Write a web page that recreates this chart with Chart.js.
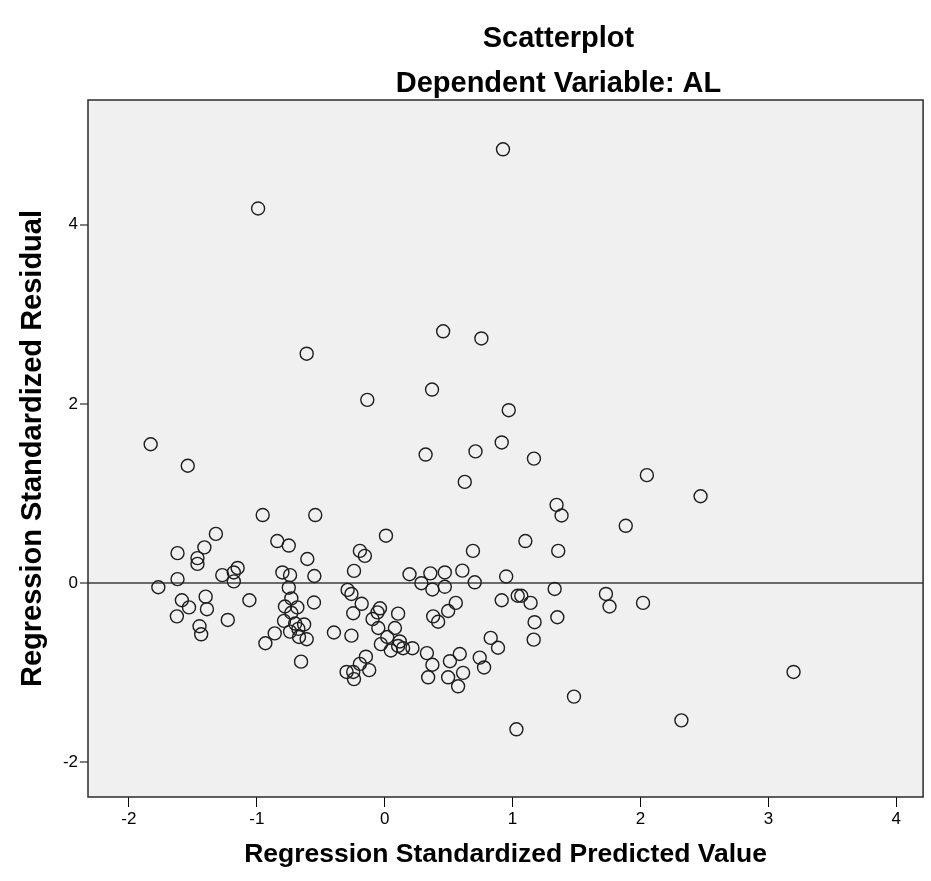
<!DOCTYPE html>
<html>
<head>
<meta charset="utf-8">
<script src="https://cdn.jsdelivr.net/npm/chart.js@4.4.1/dist/chart.umd.min.js"></script>
<style>
  body { margin: 0; background: #fff; }
</style>
</head>
<body>
<canvas id="scatter-chart" width="931" height="881"></canvas>
<script>
// 예측값 (x) / 잔차 (y)
const predicted = [
  -0.99, 0.925, 0.457, 0.756, -0.61, -0.136, 0.37, 0.97, -1.83, -1.54,
  0.32, 0.71, 0.915, 0.626, 1.167, 2.05, 2.47, 1.344, 1.383, 1.885,
  1.10, 1.357, -0.954, -0.543, -1.32, -0.84, -0.75, -1.41, -1.62, -0.605,
  -1.464, -1.464, -1.15, -1.18, -1.27, -1.18, -0.80, -0.74, -0.55, -1.62,
  -1.77, -0.75, -1.586, -1.53, -1.625, -1.40, -1.39, -1.448, -1.435, -1.058,
  -1.227, -0.73, -0.78, -0.683, -0.73, -0.787, -0.63, -0.70, -0.74, -0.675,
  -0.67, -0.61, -0.86, -0.933, -0.654, -0.553, -0.397, 0.01, 0.69, -0.194,
  -0.155, -0.24, 0.194, 0.357, 0.47, 0.607, 0.95, 0.287, 0.704, 0.373,
  0.47, -0.29, -0.26, -0.18, -0.246, -0.037, -0.056, 0.105, -0.095, -0.05,
  0.08, 0.02, -0.03, 0.048, 0.105, 0.144, 0.217, 0.118, -0.26, 0.379,
  0.418, 0.496, 0.556, 0.915, 1.04, 0.33, 0.373, 0.34, 0.51, 0.587,
  0.613, 0.496, 0.574, 0.743, 0.777, 0.829, 0.886, -0.147, -0.194, -0.246,
  -0.121, -0.298, -0.24, 1.03, 1.329, 1.73, 1.758, 2.02, 1.068, 1.141,
  1.172, 1.35, 1.165, 1.48, 2.32, 3.197
];
const residual = [
  4.18, 4.84, 2.81, 2.73, 2.56, 2.045, 2.16, 1.93, 1.55, 1.31,
  1.435, 1.47, 1.57, 1.13, 1.39, 1.205, 0.97, 0.874, 0.755, 0.64,
  0.47, 0.36, 0.76, 0.76, 0.55, 0.47, 0.42, 0.40, 0.335, 0.27,
  0.28, 0.215, 0.17, 0.12, 0.09, 0.02, 0.12, 0.09, 0.08, 0.045,
  -0.045, -0.05, -0.19, -0.27, -0.37, -0.15, -0.29, -0.48, -0.57, -0.19,
  -0.41, -0.17, -0.26, -0.27, -0.33, -0.42, -0.46, -0.45, -0.54, -0.51,
  -0.60, -0.625, -0.56, -0.67, -0.875, -0.215, -0.55, 0.53, 0.36, 0.36,
  0.305, 0.137, 0.10, 0.11, 0.12, 0.14, 0.075, 0.0, 0.01, -0.07,
  -0.04, -0.075, -0.12, -0.23, -0.335, -0.28, -0.325, -0.34, -0.40, -0.50,
  -0.50, -0.60, -0.68, -0.75, -0.70, -0.725, -0.725, -0.65, -0.585, -0.37,
  -0.43, -0.31, -0.22, -0.19, -0.14, -0.78, -0.91, -1.05, -0.87, -0.79,
  -1.0, -1.05, -1.15, -0.83, -0.94, -0.61, -0.72, -0.82, -0.90, -0.99,
  -0.97, -0.99, -1.07, -1.63, -0.064, -0.12, -0.26, -0.22, -0.14, -0.22,
  -0.435, -0.38, -0.63, -1.265, -1.53, -0.99
];

// 축 범위 / 눈금
const xRange = [-2.32, 4.21];
const yRange = [-2.385, 5.39];
const xTickStep = 1;
const yTickStep = 2;
const refLineValue = 0;

const points = predicted.map((x, i) => ({ x: x, y: residual[i] }));

// 플롯 영역 배경 + 테두리
const plotFrame = {
  id: 'plotFrame',
  beforeDraw(chart) {
    const { ctx, chartArea: a } = chart;
    ctx.save();
    ctx.fillStyle = '#f0f0f0';
    ctx.fillRect(a.left, a.top, a.right - a.left, a.bottom - a.top);
    ctx.restore();
  },
  afterDraw(chart) {
    const { ctx, chartArea: a } = chart;
    ctx.save();
    ctx.strokeStyle = '#2b2b2b';
    ctx.lineWidth = 1.5;
    ctx.strokeRect(a.left, a.top, a.right - a.left, a.bottom - a.top);
    ctx.restore();
  }
};

// 제목이 가운데보다 오른쪽에 있어서 살짝 밀어줌
const titleShift = {
  id: 'titleShift',
  afterLayout(chart) {
    chart.boxes
      .filter(b => b.position === 'top' && !b.axis)
      .forEach(b => { b.left += 95; b.right += 95; });
  }
};

const fontFamily = '"Liberation Sans", Arial, sans-serif';
const tickFont = { family: '"Liberation Sans Narrow", "Liberation Sans", Arial, sans-serif', size: 17 };

const ctx = document.getElementById('scatter-chart').getContext('2d');
new Chart(ctx, {
  type: 'scatter',
  data: {
    datasets: [{
      label: 'Residual',
      data: points,
      backgroundColor: 'rgba(0,0,0,0)',
      borderColor: '#1e1e1e',
      borderWidth: 1.4,
      pointRadius: 6.5,
      pointHoverRadius: 6.5
    }]
  },
  options: {
    responsive: false,
    devicePixelRatio: 1,
    animation: false,
    layout: { padding: { left: 0, right: 4, top: 0, bottom: 0 } },
    plugins: {
      legend: { display: false },
      tooltip: { enabled: false },
      title: {
        display: true,
        text: 'Scatterplot',
        color: '#000',
        font: { family: fontFamily, size: 29, weight: 'bold', lineHeight: 1.1 },
        padding: { top: 23, bottom: 8 }
      },
      subtitle: {
        display: true,
        text: 'Dependent Variable: AL',
        color: '#000',
        font: { family: fontFamily, size: 29, weight: 'bold', lineHeight: 1.1 },
        padding: { top: 5.15, bottom: 0.05 }
      }
    },
    scales: {
      x: {
        type: 'linear',
        min: xRange[0],
        max: xRange[1],
        afterFit: (scale) => { scale.height = 84; },
        border: { display: false },
        grid: {
          drawOnChartArea: false,
          drawTicks: true,
          tickLength: 10,
          tickColor: '#000',
          tickWidth: 1
        },
        ticks: {
          stepSize: xTickStep,
          includeBounds: false,
          color: '#000',
          font: tickFont,
          padding: 2
        },
        title: {
          display: true,
          text: 'Regression Standardized Predicted Value',
          color: '#000',
          font: { family: fontFamily, size: 26.5, weight: 'bold' },
          padding: { top: 4, bottom: 10 }
        }
      },
      y: {
        type: 'linear',
        min: yRange[0],
        max: yRange[1],
        afterFit: (scale) => { scale.width = 88; },
        border: { display: false },
        grid: {
          drawOnChartArea: true,
          color: (c) => (c.tick && c.tick.value === refLineValue ? '#6a6a6a' : 'rgba(0,0,0,0)'),
          lineWidth: (c) => (c.tick && c.tick.value === refLineValue ? 2 : 0),
          drawTicks: true,
          tickLength: 8,
          tickColor: '#000',
          tickWidth: 1
        },
        ticks: {
          stepSize: yTickStep,
          includeBounds: false,
          color: '#000',
          font: tickFont,
          padding: 2
        },
        title: {
          display: true,
          text: 'Regression Standardized Residual',
          color: '#000',
          font: { family: fontFamily, size: 29, weight: 'bold' },
          padding: { top: 16, bottom: 4 }
        }
      }
    }
  },
  plugins: [plotFrame, titleShift]
});
</script>
</body>
</html>
